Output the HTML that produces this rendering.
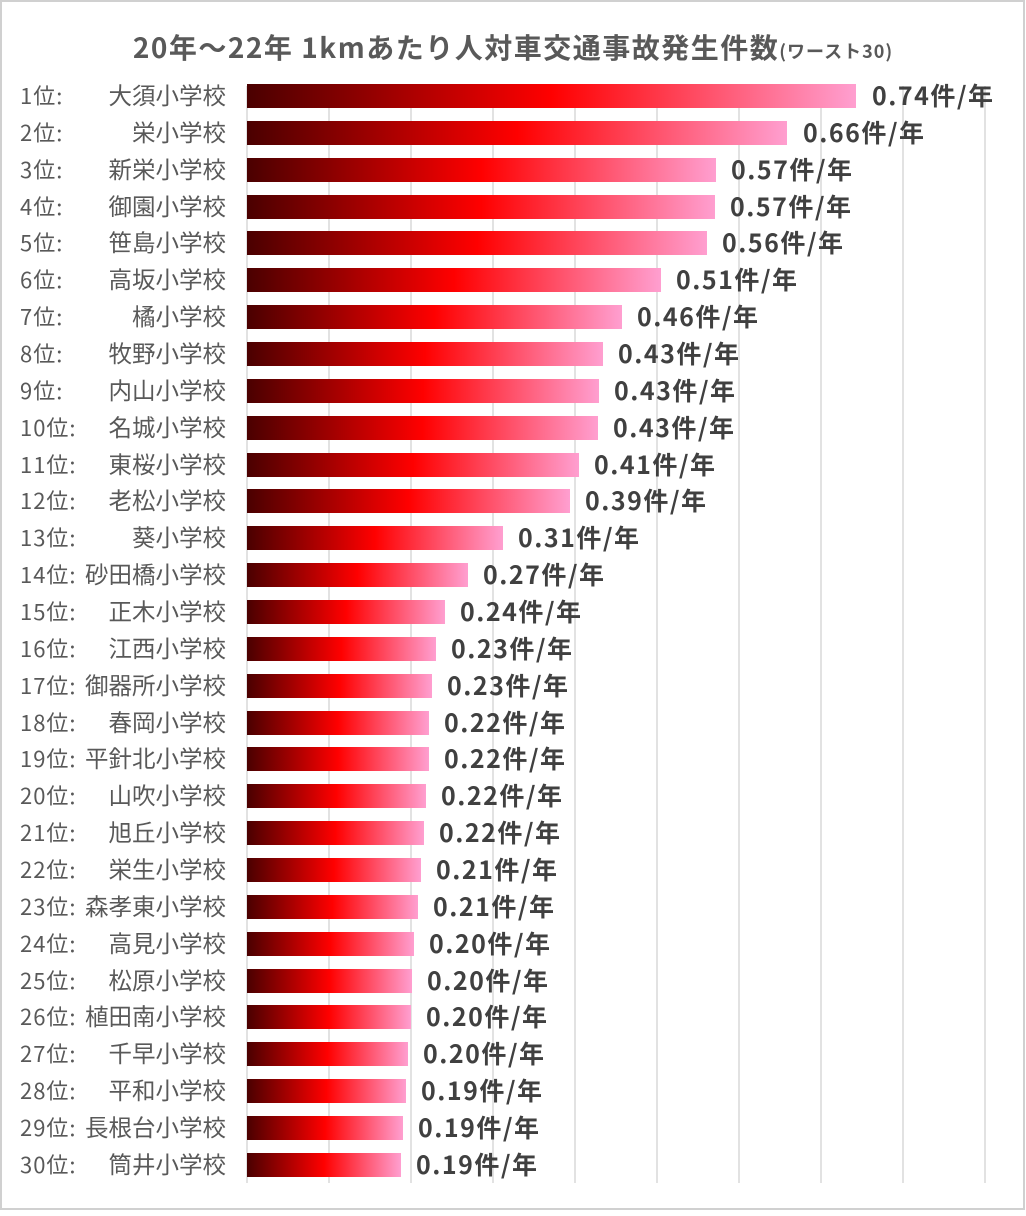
<!DOCTYPE html>
<html><head><meta charset="utf-8"><style>
html,body{margin:0;padding:0;background:#fff}
svg text{font-family:"Noto Sans CJK JP","Liberation Sans",sans-serif}
</style></head><body>
<svg width="1026" height="1211" xmlns="http://www.w3.org/2000/svg">
<defs><linearGradient id="g" x1="0" x2="1" y1="0" y2="0">
<stop offset="0" stop-color="#4a0000"/><stop offset="0.5" stop-color="#ff0000"/><stop offset="1" stop-color="#ff9fd0"/></linearGradient></defs>
<rect x="1" y="1" width="1023" height="1208" fill="#fff" stroke="#d0d0d0" stroke-width="2"/>
<text x="513" y="58" text-anchor="middle" font-size="28" font-weight="bold" fill="#595959" letter-spacing="1.5">20年～22年 1kmあたり人対車交通事故発生件数<tspan font-size="18" letter-spacing="1">(ワースト30)</tspan></text>
<g stroke="#d9d9d9" stroke-width="1.5">
<line x1="247" y1="86" x2="247" y2="1183"/><line x1="329" y1="86" x2="329" y2="1183"/><line x1="411" y1="86" x2="411" y2="1183"/><line x1="493" y1="86" x2="493" y2="1183"/><line x1="575" y1="86" x2="575" y2="1183"/><line x1="657" y1="86" x2="657" y2="1183"/><line x1="739" y1="86" x2="739" y2="1183"/><line x1="821" y1="86" x2="821" y2="1183"/><line x1="903" y1="86" x2="903" y2="1183"/><line x1="985" y1="86" x2="985" y2="1183"/>
</g>
<g fill="url(#g)">
<rect x="247" y="84" width="609" height="24"/>
<rect x="247" y="121" width="540" height="24"/>
<rect x="247" y="158" width="469" height="24"/>
<rect x="247" y="195" width="468" height="24"/>
<rect x="247" y="231" width="460" height="24"/>
<rect x="247" y="268" width="414" height="24"/>
<rect x="247" y="305" width="375" height="24"/>
<rect x="247" y="342" width="356" height="24"/>
<rect x="247" y="379" width="352" height="24"/>
<rect x="247" y="416" width="351" height="24"/>
<rect x="247" y="453" width="332" height="24"/>
<rect x="247" y="489" width="323" height="24"/>
<rect x="247" y="526" width="256" height="24"/>
<rect x="247" y="563" width="221" height="24"/>
<rect x="247" y="600" width="198" height="24"/>
<rect x="247" y="637" width="189" height="24"/>
<rect x="247" y="674" width="185" height="24"/>
<rect x="247" y="711" width="182" height="24"/>
<rect x="247" y="747" width="182" height="24"/>
<rect x="247" y="784" width="179" height="24"/>
<rect x="247" y="821" width="177" height="24"/>
<rect x="247" y="858" width="174" height="24"/>
<rect x="247" y="895" width="171" height="24"/>
<rect x="247" y="932" width="167" height="24"/>
<rect x="247" y="969" width="165" height="24"/>
<rect x="247" y="1005" width="164" height="24"/>
<rect x="247" y="1042" width="161" height="24"/>
<rect x="247" y="1079" width="159" height="24"/>
<rect x="247" y="1116" width="156" height="24"/>
<rect x="247" y="1153" width="154" height="24"/>
</g>
<g font-size="22" fill="#595959" letter-spacing="1">
<text x="20" y="104">1位:</text><text x="20" y="141">2位:</text><text x="20" y="178">3位:</text><text x="20" y="215">4位:</text><text x="20" y="251">5位:</text><text x="20" y="288">6位:</text><text x="20" y="325">7位:</text><text x="20" y="362">8位:</text><text x="20" y="399">9位:</text><text x="20" y="436">10位:</text><text x="20" y="473">11位:</text><text x="20" y="509">12位:</text><text x="20" y="546">13位:</text><text x="20" y="583">14位:</text><text x="20" y="620">15位:</text><text x="20" y="657">16位:</text><text x="20" y="694">17位:</text><text x="20" y="731">18位:</text><text x="20" y="767">19位:</text><text x="20" y="804">20位:</text><text x="20" y="841">21位:</text><text x="20" y="878">22位:</text><text x="20" y="915">23位:</text><text x="20" y="952">24位:</text><text x="20" y="989">25位:</text><text x="20" y="1025">26位:</text><text x="20" y="1062">27位:</text><text x="20" y="1099">28位:</text><text x="20" y="1136">29位:</text><text x="20" y="1173">30位:</text>
</g>
<g font-size="23.5" fill="#595959" text-anchor="end">
<text x="226" y="104">大須小学校</text><text x="226" y="141">栄小学校</text><text x="226" y="178">新栄小学校</text><text x="226" y="215">御園小学校</text><text x="226" y="251">笹島小学校</text><text x="226" y="288">高坂小学校</text><text x="226" y="325">橘小学校</text><text x="226" y="362">牧野小学校</text><text x="226" y="399">内山小学校</text><text x="226" y="436">名城小学校</text><text x="226" y="473">東桜小学校</text><text x="226" y="509">老松小学校</text><text x="226" y="546">葵小学校</text><text x="226" y="583">砂田橋小学校</text><text x="226" y="620">正木小学校</text><text x="226" y="657">江西小学校</text><text x="226" y="694">御器所小学校</text><text x="226" y="731">春岡小学校</text><text x="226" y="767">平針北小学校</text><text x="226" y="804">山吹小学校</text><text x="226" y="841">旭丘小学校</text><text x="226" y="878">栄生小学校</text><text x="226" y="915">森孝東小学校</text><text x="226" y="952">高見小学校</text><text x="226" y="989">松原小学校</text><text x="226" y="1025">植田南小学校</text><text x="226" y="1062">千早小学校</text><text x="226" y="1099">平和小学校</text><text x="226" y="1136">長根台小学校</text><text x="226" y="1173">筒井小学校</text>
</g>
<g font-size="25" font-weight="bold" fill="#404040" letter-spacing="1.5">
<text x="872" y="105">0.74件/年</text>
<text x="803" y="142">0.66件/年</text>
<text x="731" y="179">0.57件/年</text>
<text x="730" y="216">0.57件/年</text>
<text x="722" y="252">0.56件/年</text>
<text x="676" y="289">0.51件/年</text>
<text x="637" y="326">0.46件/年</text>
<text x="618" y="363">0.43件/年</text>
<text x="614" y="400">0.43件/年</text>
<text x="613" y="437">0.43件/年</text>
<text x="594" y="474">0.41件/年</text>
<text x="585" y="510">0.39件/年</text>
<text x="518" y="547">0.31件/年</text>
<text x="483" y="584">0.27件/年</text>
<text x="460" y="621">0.24件/年</text>
<text x="451" y="658">0.23件/年</text>
<text x="447" y="695">0.23件/年</text>
<text x="444" y="732">0.22件/年</text>
<text x="444" y="768">0.22件/年</text>
<text x="441" y="805">0.22件/年</text>
<text x="439" y="842">0.22件/年</text>
<text x="436" y="879">0.21件/年</text>
<text x="433" y="916">0.21件/年</text>
<text x="429" y="953">0.20件/年</text>
<text x="427" y="990">0.20件/年</text>
<text x="426" y="1026">0.20件/年</text>
<text x="423" y="1063">0.20件/年</text>
<text x="421" y="1100">0.19件/年</text>
<text x="418" y="1137">0.19件/年</text>
<text x="416" y="1174">0.19件/年</text>
</g>
</svg>
</body></html>
